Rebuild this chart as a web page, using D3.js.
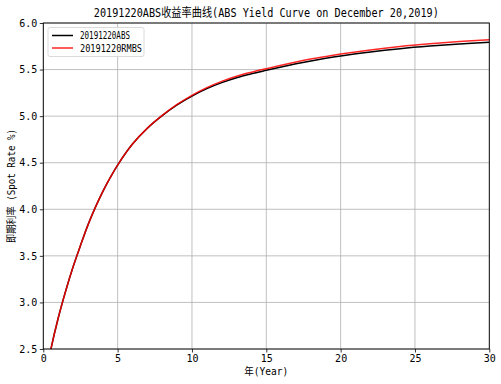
<!DOCTYPE html>
<html><head><meta charset="utf-8">
<script src="https://cdn.jsdelivr.net/npm/d3@7"></script>
<style>body{margin:0;background:#fff}svg{display:block}</style>
</head><body>
<script>
const years = [0.25,0.5,1,1.5,2,2.5,3,3.5,4,4.5,5,6,7,8,9,10,11,12,13,14,15,16,17,18,19,20,22,24,26,28,30];
const absRates = [2.28,2.49,2.83,3.12,3.38,3.61,3.83,4.02,4.19,4.34,4.475,4.70,4.87,5.005,5.12,5.215,5.295,5.36,5.413,5.455,5.492,5.528,5.562,5.593,5.621,5.646,5.689,5.724,5.752,5.775,5.793];
const rmbsRates = [2.28,2.49,2.83,3.12,3.38,3.61,3.83,4.02,4.19,4.34,4.475,4.70,4.871,5.008,5.126,5.224,5.306,5.373,5.428,5.471,5.509,5.546,5.581,5.613,5.641,5.667,5.711,5.747,5.776,5.801,5.821];
const xTicks = [0,5,10,15,20,25,30];
const yTicks = [2.5,3.0,3.5,4.0,4.5,5.0,5.5,6.0];
const seriesNames = ["20191220ABS","20191220RMBS"];
const titleText = "20191220ABS收益率曲线(ABS Yield Curve on December 20,2019)";
const xLabel = "年(Year)";
const yLabel = "即期利率 (Spot Rate %)";

const W=501,H=384, L=43.3, R=489.3, T=23, B=349;
const font = "'DejaVu Sans Mono','Noto Sans CJK SC',monospace";
const svg = d3.select("body").append("svg").attr("width",W).attr("height",H);
const x = d3.scaleLinear().domain([0,30]).range([L,R]);
const y = d3.scaleLinear().domain([2.5,6.0]).range([B,T]);

// grid
svg.append("g").selectAll("line").data(xTicks).join("line")
  .attr("x1",d=>x(d)).attr("x2",d=>x(d)).attr("y1",T).attr("y2",B)
  .attr("stroke","#b0b0b0").attr("stroke-width",0.8);
svg.append("g").selectAll("line").data(yTicks).join("line")
  .attr("y1",d=>y(d)).attr("y2",d=>y(d)).attr("x1",L).attr("x2",R)
  .attr("stroke","#b0b0b0").attr("stroke-width",0.8);

svg.append("clipPath").attr("id","clip").append("rect").attr("x",L).attr("y",T).attr("width",R-L).attr("height",B-T);
const line = d3.line().curve(d3.curveCatmullRom.alpha(0.5));
const pts = (arr)=>years.map((d,i)=>[x(d),y(arr[i])]);
const g = svg.append("g").attr("clip-path","url(#clip)");
g.append("path").attr("d",line(pts(absRates))).attr("fill","none").attr("stroke","#000").attr("stroke-width",1.5);
g.append("path").attr("d",line(pts(rmbsRates))).attr("fill","none").attr("stroke","#ff0000").attr("stroke-width",1.5).attr("opacity",0.85);

// axes
const xa = svg.append("g").attr("transform",`translate(0,${B})`).call(d3.axisBottom(x).tickValues(xTicks).tickFormat(d3.format("d")).tickSize(3.5).tickSizeOuter(0));
const ya = svg.append("g").attr("transform",`translate(${L},0)`).call(d3.axisLeft(y).tickValues(yTicks).tickFormat(d3.format(".1f")).tickSize(3.5).tickSizeOuter(0));
[xa,ya].forEach(a=>{a.select(".domain").remove();a.selectAll("line").attr("stroke","#000").attr("stroke-width",0.8);
  a.selectAll("text").attr("font-family",font).attr("font-size",10).attr("fill","#000");});
xa.selectAll("text").attr("dy","0.71em").attr("y",6);
ya.selectAll("text").attr("x",-6);

svg.append("rect").attr("x",L).attr("y",T).attr("width",R-L).attr("height",B-T).attr("fill","none").attr("stroke","#000").attr("stroke-width",0.9);

// title
svg.append("text").attr("x",(L+R)/2).attr("y",17).attr("text-anchor","middle").attr("font-family",font).attr("font-size",12)
  .attr("textLength",345).attr("lengthAdjust","spacingAndGlyphs").text(titleText);
svg.append("text").attr("x",(L+R)/2).attr("y",375).attr("text-anchor","middle").attr("font-family",font).attr("font-size",10)
  .attr("textLength",44).attr("lengthAdjust","spacingAndGlyphs").text(xLabel);
svg.append("text").attr("transform",`translate(15,${(T+B)/2}) rotate(-90)`).attr("text-anchor","middle").attr("font-family",font).attr("font-size",10)
  .attr("textLength",114).attr("lengthAdjust","spacingAndGlyphs").text(yLabel);

// legend
const lg = svg.append("g");
lg.append("rect").attr("x",48).attr("y",27.5).attr("width",96).attr("height",29).attr("rx",2).attr("fill","#fff").attr("fill-opacity",0.8).attr("stroke","#d0d0d0").attr("stroke-width",0.8);
const colors=["#000","#ff0000"];
seriesNames.forEach((n,i)=>{
  const yy = 35.5+i*12.5;
  lg.append("line").attr("x1",52).attr("x2",73).attr("y1",yy).attr("y2",yy).attr("stroke",colors[i]).attr("stroke-width",1.5).attr("opacity",i?0.85:1);
  lg.append("text").attr("x",80).attr("y",yy+3.5).attr("font-family",font).attr("font-size",10)
    .attr("textLength",i?62:50).attr("lengthAdjust","spacingAndGlyphs").text(n);
});
</script>
</body></html>
